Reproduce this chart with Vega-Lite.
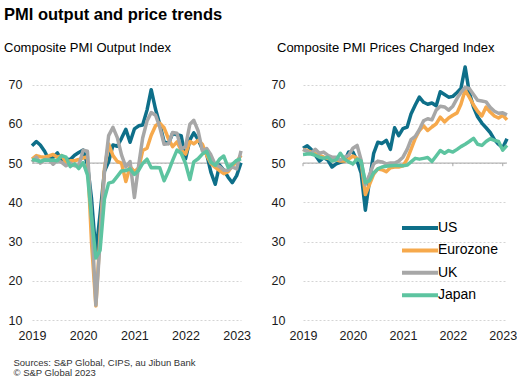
{
  "$schema": "https://vega.github.io/schema/vega-lite/v6.json",
  "background": "white",
  "padding": {"left": 4, "top": 6, "right": 3, "bottom": 0},
  "title": {"text": "PMI output and price trends", "anchor": "start", "frame": "bounds", "font": "Liberation Sans", "fontSize": 16.5, "fontWeight": "bold", "color": "#000000", "offset": 19, "dx": 0},
  "config": {
    "font": "Liberation Sans",
    "view": {"stroke": null},
    "concat": {"spacing": 20},
    "axis": {"labelFont": "Liberation Sans", "labelFontSize": 12.5, "labelColor": "#1a1a1a", "domain": false, "ticks": false, "grid": false},
    "title": {"font": "Liberation Sans", "color": "#000000"}
  },
  "resolve": {"legend": {"color": "independent"}},
  "datasets": {
    "pmi": [
      {"m":"2019-01-01","c":"US","o":54.4,"p":53.8},
      {"m":"2019-02-01","c":"US","o":55.5,"p":54.4},
      {"m":"2019-03-01","c":"US","o":54.6,"p":53.5},
      {"m":"2019-04-01","c":"US","o":53.0,"p":52.0},
      {"m":"2019-05-01","c":"US","o":50.9,"p":50.5},
      {"m":"2019-06-01","c":"US","o":51.5,"p":51.4},
      {"m":"2019-07-01","c":"US","o":52.6,"p":50.8},
      {"m":"2019-08-01","c":"US","o":50.7,"p":49.0},
      {"m":"2019-09-01","c":"US","o":51.0,"p":49.8},
      {"m":"2019-10-01","c":"US","o":50.9,"p":50.2},
      {"m":"2019-11-01","c":"US","o":52.0,"p":50.5},
      {"m":"2019-12-01","c":"US","o":52.7,"p":52.8},
      {"m":"2020-01-01","c":"US","o":53.3,"p":52.8},
      {"m":"2020-02-01","c":"US","o":49.6,"p":50.5},
      {"m":"2020-03-01","c":"US","o":40.9,"p":47.5},
      {"m":"2020-04-01","c":"US","o":27.0,"p":38.0},
      {"m":"2020-05-01","c":"US","o":37.0,"p":45.5},
      {"m":"2020-06-01","c":"US","o":47.9,"p":52.5},
      {"m":"2020-07-01","c":"US","o":50.3,"p":55.3},
      {"m":"2020-08-01","c":"US","o":54.6,"p":55.0},
      {"m":"2020-09-01","c":"US","o":54.3,"p":55.8},
      {"m":"2020-10-01","c":"US","o":56.3,"p":53.5},
      {"m":"2020-11-01","c":"US","o":58.6,"p":59.0},
      {"m":"2020-12-01","c":"US","o":55.3,"p":57.0},
      {"m":"2021-01-01","c":"US","o":58.7,"p":58.8},
      {"m":"2021-02-01","c":"US","o":59.5,"p":59.2},
      {"m":"2021-03-01","c":"US","o":59.7,"p":62.5},
      {"m":"2021-04-01","c":"US","o":63.5,"p":64.8},
      {"m":"2021-05-01","c":"US","o":68.7,"p":66.8},
      {"m":"2021-06-01","c":"US","o":63.7,"p":65.5},
      {"m":"2021-07-01","c":"US","o":59.9,"p":65.0},
      {"m":"2021-08-01","c":"US","o":55.4,"p":65.3},
      {"m":"2021-09-01","c":"US","o":55.0,"p":64.6},
      {"m":"2021-10-01","c":"US","o":57.6,"p":68.2},
      {"m":"2021-11-01","c":"US","o":57.2,"p":67.5},
      {"m":"2021-12-01","c":"US","o":57.0,"p":66.8},
      {"m":"2022-01-01","c":"US","o":51.1,"p":67.0},
      {"m":"2022-02-01","c":"US","o":55.9,"p":68.0},
      {"m":"2022-03-01","c":"US","o":57.7,"p":69.0},
      {"m":"2022-04-01","c":"US","o":56.0,"p":74.5},
      {"m":"2022-05-01","c":"US","o":53.6,"p":68.0},
      {"m":"2022-06-01","c":"US","o":52.3,"p":64.3},
      {"m":"2022-07-01","c":"US","o":47.7,"p":61.8},
      {"m":"2022-08-01","c":"US","o":44.6,"p":60.2},
      {"m":"2022-09-01","c":"US","o":49.5,"p":59.0},
      {"m":"2022-10-01","c":"US","o":48.2,"p":57.8},
      {"m":"2022-11-01","c":"US","o":46.4,"p":56.0},
      {"m":"2022-12-01","c":"US","o":45.0,"p":54.8},
      {"m":"2023-01-01","c":"US","o":46.8,"p":53.9},
      {"m":"2023-02-01","c":"US","o":50.1,"p":56.2},

      {"m":"2019-01-01","c":"Eurozone","o":51.0,"p":53.5},
      {"m":"2019-02-01","c":"Eurozone","o":51.9,"p":53.2},
      {"m":"2019-03-01","c":"Eurozone","o":51.6,"p":52.8},
      {"m":"2019-04-01","c":"Eurozone","o":51.5,"p":52.3},
      {"m":"2019-05-01","c":"Eurozone","o":51.8,"p":52.0},
      {"m":"2019-06-01","c":"Eurozone","o":52.2,"p":51.5},
      {"m":"2019-07-01","c":"Eurozone","o":51.5,"p":51.2},
      {"m":"2019-08-01","c":"Eurozone","o":51.9,"p":51.0},
      {"m":"2019-09-01","c":"Eurozone","o":50.1,"p":50.8},
      {"m":"2019-10-01","c":"Eurozone","o":50.6,"p":50.5},
      {"m":"2019-11-01","c":"Eurozone","o":50.6,"p":50.5},
      {"m":"2019-12-01","c":"Eurozone","o":50.9,"p":51.0},
      {"m":"2020-01-01","c":"Eurozone","o":51.3,"p":51.8},
      {"m":"2020-02-01","c":"Eurozone","o":51.6,"p":51.2},
      {"m":"2020-03-01","c":"Eurozone","o":29.7,"p":50.5},
      {"m":"2020-04-01","c":"Eurozone","o":13.6,"p":42.0},
      {"m":"2020-05-01","c":"Eurozone","o":31.9,"p":44.5},
      {"m":"2020-06-01","c":"Eurozone","o":48.5,"p":47.2},
      {"m":"2020-07-01","c":"Eurozone","o":54.9,"p":48.5},
      {"m":"2020-08-01","c":"Eurozone","o":51.9,"p":48.3},
      {"m":"2020-09-01","c":"Eurozone","o":50.4,"p":47.8},
      {"m":"2020-10-01","c":"Eurozone","o":50.0,"p":48.8},
      {"m":"2020-11-01","c":"Eurozone","o":45.3,"p":49.0},
      {"m":"2020-12-01","c":"Eurozone","o":49.1,"p":49.0},
      {"m":"2021-01-01","c":"Eurozone","o":47.8,"p":49.3},
      {"m":"2021-02-01","c":"Eurozone","o":48.8,"p":51.0},
      {"m":"2021-03-01","c":"Eurozone","o":53.2,"p":53.5},
      {"m":"2021-04-01","c":"Eurozone","o":53.8,"p":56.3},
      {"m":"2021-05-01","c":"Eurozone","o":57.1,"p":58.3},
      {"m":"2021-06-01","c":"Eurozone","o":59.5,"p":59.5},
      {"m":"2021-07-01","c":"Eurozone","o":60.2,"p":58.3},
      {"m":"2021-08-01","c":"Eurozone","o":59.0,"p":59.2},
      {"m":"2021-09-01","c":"Eurozone","o":56.2,"p":60.0},
      {"m":"2021-10-01","c":"Eurozone","o":54.2,"p":61.7},
      {"m":"2021-11-01","c":"Eurozone","o":55.4,"p":60.5},
      {"m":"2021-12-01","c":"Eurozone","o":53.3,"p":61.5},
      {"m":"2022-01-01","c":"Eurozone","o":52.3,"p":62.2},
      {"m":"2022-02-01","c":"Eurozone","o":55.5,"p":62.8},
      {"m":"2022-03-01","c":"Eurozone","o":54.9,"p":65.0},
      {"m":"2022-04-01","c":"Eurozone","o":55.8,"p":68.6},
      {"m":"2022-05-01","c":"Eurozone","o":54.8,"p":66.8},
      {"m":"2022-06-01","c":"Eurozone","o":52.0,"p":64.8},
      {"m":"2022-07-01","c":"Eurozone","o":49.9,"p":63.2},
      {"m":"2022-08-01","c":"Eurozone","o":48.9,"p":62.0},
      {"m":"2022-09-01","c":"Eurozone","o":48.1,"p":64.3},
      {"m":"2022-10-01","c":"Eurozone","o":47.3,"p":63.0},
      {"m":"2022-11-01","c":"Eurozone","o":47.8,"p":62.0},
      {"m":"2022-12-01","c":"Eurozone","o":49.3,"p":61.5},
      {"m":"2023-01-01","c":"Eurozone","o":50.3,"p":62.2},
      {"m":"2023-02-01","c":"Eurozone","o":52.0,"p":61.0},

      {"m":"2019-01-01","c":"UK","o":50.3,"p":53.5},
      {"m":"2019-02-01","c":"UK","o":51.5,"p":53.0},
      {"m":"2019-03-01","c":"UK","o":50.0,"p":52.5},
      {"m":"2019-04-01","c":"UK","o":50.9,"p":53.5},
      {"m":"2019-05-01","c":"UK","o":50.9,"p":52.5},
      {"m":"2019-06-01","c":"UK","o":49.7,"p":52.8},
      {"m":"2019-07-01","c":"UK","o":50.7,"p":52.0},
      {"m":"2019-08-01","c":"UK","o":50.2,"p":51.5},
      {"m":"2019-09-01","c":"UK","o":49.3,"p":51.5},
      {"m":"2019-10-01","c":"UK","o":50.0,"p":50.8},
      {"m":"2019-11-01","c":"UK","o":49.3,"p":51.5},
      {"m":"2019-12-01","c":"UK","o":49.3,"p":52.0},
      {"m":"2020-01-01","c":"UK","o":53.3,"p":53.8},
      {"m":"2020-02-01","c":"UK","o":53.0,"p":54.5},
      {"m":"2020-03-01","c":"UK","o":36.0,"p":50.8},
      {"m":"2020-04-01","c":"UK","o":13.8,"p":44.5},
      {"m":"2020-05-01","c":"UK","o":30.0,"p":47.0},
      {"m":"2020-06-01","c":"UK","o":47.7,"p":49.8},
      {"m":"2020-07-01","c":"UK","o":57.0,"p":50.5},
      {"m":"2020-08-01","c":"UK","o":59.1,"p":50.3},
      {"m":"2020-09-01","c":"UK","o":56.5,"p":49.8},
      {"m":"2020-10-01","c":"UK","o":52.1,"p":50.0},
      {"m":"2020-11-01","c":"UK","o":49.0,"p":50.0},
      {"m":"2020-12-01","c":"UK","o":50.4,"p":50.5},
      {"m":"2021-01-01","c":"UK","o":41.2,"p":51.5},
      {"m":"2021-02-01","c":"UK","o":49.6,"p":53.5},
      {"m":"2021-03-01","c":"UK","o":56.4,"p":56.0},
      {"m":"2021-04-01","c":"UK","o":60.7,"p":56.8},
      {"m":"2021-05-01","c":"UK","o":62.9,"p":58.5},
      {"m":"2021-06-01","c":"UK","o":62.2,"p":60.8},
      {"m":"2021-07-01","c":"UK","o":59.2,"p":61.3},
      {"m":"2021-08-01","c":"UK","o":54.8,"p":61.0},
      {"m":"2021-09-01","c":"UK","o":54.9,"p":63.5},
      {"m":"2021-10-01","c":"UK","o":57.8,"p":64.5},
      {"m":"2021-11-01","c":"UK","o":57.6,"p":64.3},
      {"m":"2021-12-01","c":"UK","o":53.6,"p":63.5},
      {"m":"2022-01-01","c":"UK","o":54.2,"p":64.5},
      {"m":"2022-02-01","c":"UK","o":59.9,"p":66.5},
      {"m":"2022-03-01","c":"UK","o":60.9,"p":68.0},
      {"m":"2022-04-01","c":"UK","o":58.2,"p":69.3},
      {"m":"2022-05-01","c":"UK","o":53.1,"p":69.0},
      {"m":"2022-06-01","c":"UK","o":53.7,"p":67.5},
      {"m":"2022-07-01","c":"UK","o":52.1,"p":66.0},
      {"m":"2022-08-01","c":"UK","o":49.6,"p":65.8},
      {"m":"2022-09-01","c":"UK","o":49.1,"p":65.6},
      {"m":"2022-10-01","c":"UK","o":48.2,"p":64.2},
      {"m":"2022-11-01","c":"UK","o":48.2,"p":63.2},
      {"m":"2022-12-01","c":"UK","o":49.0,"p":62.7},
      {"m":"2023-01-01","c":"UK","o":48.5,"p":62.8},
      {"m":"2023-02-01","c":"UK","o":53.1,"p":62.3},

      {"m":"2019-01-01","c":"Japan","o":50.9,"p":52.2},
      {"m":"2019-02-01","c":"Japan","o":50.7,"p":52.3},
      {"m":"2019-03-01","c":"Japan","o":50.4,"p":52.3},
      {"m":"2019-04-01","c":"Japan","o":50.8,"p":52.0},
      {"m":"2019-05-01","c":"Japan","o":50.7,"p":51.5},
      {"m":"2019-06-01","c":"Japan","o":50.8,"p":51.2},
      {"m":"2019-07-01","c":"Japan","o":50.6,"p":51.5},
      {"m":"2019-08-01","c":"Japan","o":51.9,"p":50.5},
      {"m":"2019-09-01","c":"Japan","o":51.5,"p":50.8},
      {"m":"2019-10-01","c":"Japan","o":49.1,"p":52.5},
      {"m":"2019-11-01","c":"Japan","o":49.8,"p":51.0},
      {"m":"2019-12-01","c":"Japan","o":48.6,"p":50.3},
      {"m":"2020-01-01","c":"Japan","o":50.1,"p":49.8},
      {"m":"2020-02-01","c":"Japan","o":47.0,"p":51.0},
      {"m":"2020-03-01","c":"Japan","o":36.2,"p":50.5},
      {"m":"2020-04-01","c":"Japan","o":25.8,"p":45.0},
      {"m":"2020-05-01","c":"Japan","o":27.8,"p":45.5},
      {"m":"2020-06-01","c":"Japan","o":40.8,"p":47.5},
      {"m":"2020-07-01","c":"Japan","o":44.9,"p":48.5},
      {"m":"2020-08-01","c":"Japan","o":45.2,"p":49.0},
      {"m":"2020-09-01","c":"Japan","o":46.6,"p":49.2},
      {"m":"2020-10-01","c":"Japan","o":48.0,"p":49.3},
      {"m":"2020-11-01","c":"Japan","o":48.1,"p":49.4},
      {"m":"2020-12-01","c":"Japan","o":48.5,"p":49.4},
      {"m":"2021-01-01","c":"Japan","o":47.1,"p":49.3},
      {"m":"2021-02-01","c":"Japan","o":48.2,"p":49.5},
      {"m":"2021-03-01","c":"Japan","o":49.9,"p":50.3},
      {"m":"2021-04-01","c":"Japan","o":51.0,"p":51.2},
      {"m":"2021-05-01","c":"Japan","o":48.8,"p":51.0},
      {"m":"2021-06-01","c":"Japan","o":48.9,"p":51.2},
      {"m":"2021-07-01","c":"Japan","o":48.8,"p":51.4},
      {"m":"2021-08-01","c":"Japan","o":45.5,"p":50.4},
      {"m":"2021-09-01","c":"Japan","o":47.9,"p":51.8},
      {"m":"2021-10-01","c":"Japan","o":50.7,"p":53.2},
      {"m":"2021-11-01","c":"Japan","o":53.3,"p":52.5},
      {"m":"2021-12-01","c":"Japan","o":52.5,"p":53.2},
      {"m":"2022-01-01","c":"Japan","o":49.9,"p":52.8},
      {"m":"2022-02-01","c":"Japan","o":45.8,"p":53.5},
      {"m":"2022-03-01","c":"Japan","o":50.3,"p":54.2},
      {"m":"2022-04-01","c":"Japan","o":51.1,"p":54.8},
      {"m":"2022-05-01","c":"Japan","o":52.3,"p":55.5},
      {"m":"2022-06-01","c":"Japan","o":53.0,"p":56.3},
      {"m":"2022-07-01","c":"Japan","o":50.2,"p":54.8},
      {"m":"2022-08-01","c":"Japan","o":49.4,"p":54.5},
      {"m":"2022-09-01","c":"Japan","o":51.0,"p":55.5},
      {"m":"2022-10-01","c":"Japan","o":51.8,"p":56.2},
      {"m":"2022-11-01","c":"Japan","o":48.9,"p":55.8},
      {"m":"2022-12-01","c":"Japan","o":49.7,"p":55.5},
      {"m":"2023-01-01","c":"Japan","o":50.7,"p":53.3},
      {"m":"2023-02-01","c":"Japan","o":51.1,"p":54.5}
    ]
  },
  "hconcat": [
    {
      "width": 209,
      "height": 255,
      "title": {"text": "Composite  PMI Output Index", "anchor": "start", "frame": "group", "fontSize": 13, "fontWeight": "normal", "offset": 10, "dx": -28},
      "layer": [
        {
          "data": {"values": [{"ref": 50}]},
          "mark": {"type": "rule", "color": "#a6a6a6", "strokeWidth": 1},
          "encoding": {"y": {"field": "ref", "type": "quantitative", "scale": {"domain": [10, 75]}}}
        },
        {
          "data": {"name": "pmi"},
          "mark": {"type": "line", "strokeWidth": 3.5, "strokeJoin": "round", "strokeCap": "butt"},
          "encoding": {
            "x": {
              "field": "m", "type": "temporal",
              "scale": {"type": "utc", "domain": [{"year": 2019, "month": 1, "date": 1, "utc": true}, {"year": 2023, "month": 2, "date": 1, "utc": true}]},
              "axis": {
                "values": [{"year": 2019, "month": 1, "date": 1, "utc": true}, {"year": 2020, "month": 1, "date": 1, "utc": true}, {"year": 2021, "month": 1, "date": 1, "utc": true}, {"year": 2022, "month": 1, "date": 1, "utc": true}, {"year": 2023, "month": 1, "date": 1, "utc": true}],
                "format": "%Y", "labelPadding": 9, "labelFlush": false,
                "title": ["Sources: S&P Global, CIPS, au Jibun Bank", "© S&P Global 2023"],
                "titleFontSize": 9.5, "titleFontWeight": "normal", "titleColor": "#333333",
                "titleAlign": "left", "titleBaseline": "alphabetic", "titleX": -19, "titleY": 45, "titleLineHeight": 10.5
              }
            },
            "y": {
              "field": "o", "type": "quantitative",
              "scale": {"domain": [10, 75]},
              "axis": {"values": [10, 20, 30, 40, 50, 60, 70], "grid": true, "gridColor": "#d4d4d4", "gridDash": [2, 2], "gridWidth": 1, "labelPadding": 10, "title": null}
            },
            "color": {
              "field": "c", "type": "nominal",
              "scale": {"domain": ["US", "Eurozone", "UK", "Japan"], "range": ["#0E6F89", "#F6A94C", "#A7A7A7", "#5DC4A0"]},
              "legend": null
            }
          }
        }
      ]
    },
    {
      "width": 204,
      "height": 255,
      "title": {"text": "Composite  PMI Prices Charged Index", "anchor": "start", "frame": "group", "fontSize": 13, "fontWeight": "normal", "offset": 10, "dx": -26},
      "layer": [
        {
          "data": {"values": [{"ref": 50}]},
          "mark": {"type": "rule", "color": "#a6a6a6", "strokeWidth": 1},
          "encoding": {"y": {"field": "ref", "type": "quantitative", "scale": {"domain": [10, 75]}}}
        },
        {
          "data": {"values": [{"t": "2019-01-01"}, {"t": "2020-01-01"}, {"t": "2021-01-01"}, {"t": "2022-01-01"}, {"t": "2023-01-01"}]},
          "mark": {"type": "rule", "color": "#a6a6a6", "strokeWidth": 1},
          "encoding": {
            "x": {"field": "t", "type": "temporal", "scale": {"type": "utc", "domain": [{"year": 2019, "month": 1, "date": 1, "utc": true}, {"year": 2023, "month": 2, "date": 1, "utc": true}]}},
            "y": {"datum": 50},
            "y2": {"datum": 49.2}
          }
        },
        {
          "data": {"name": "pmi"},
          "mark": {"type": "line", "strokeWidth": 3.5, "strokeJoin": "round", "strokeCap": "butt"},
          "encoding": {
            "x": {
              "field": "m", "type": "temporal",
              "scale": {"type": "utc", "domain": [{"year": 2019, "month": 1, "date": 1, "utc": true}, {"year": 2023, "month": 2, "date": 1, "utc": true}]},
              "axis": {
                "values": [{"year": 2019, "month": 1, "date": 1, "utc": true}, {"year": 2020, "month": 1, "date": 1, "utc": true}, {"year": 2021, "month": 1, "date": 1, "utc": true}, {"year": 2022, "month": 1, "date": 1, "utc": true}, {"year": 2023, "month": 1, "date": 1, "utc": true}],
                "format": "%Y", "labelPadding": 9, "labelFlush": false, "title": null
              }
            },
            "y": {
              "field": "p", "type": "quantitative",
              "scale": {"domain": [10, 75]},
              "axis": {"values": [10, 20, 30, 40, 50, 60, 70], "grid": true, "gridColor": "#d4d4d4", "gridDash": [2, 2], "gridWidth": 1, "labelPadding": 18, "title": null}
            },
            "color": {
              "field": "c", "type": "nominal",
              "scale": {"domain": ["US", "Eurozone", "UK", "Japan"], "range": ["#0E6F89", "#F6A94C", "#A7A7A7", "#5DC4A0"]},
              "legend": {"orient": "none", "legendX": 109, "legendY": 155, "padding": 0, "title": null, "symbolType": "M-3,0H3", "symbolStrokeWidth": 4, "symbolSize": 144, "labelFontSize": 14, "labelFont": "Liberation Sans", "labelColor": "#000000", "rowPadding": 6.4, "labelOffset": 10}
            }
          }
        }
      ]
    }
  ]
}
